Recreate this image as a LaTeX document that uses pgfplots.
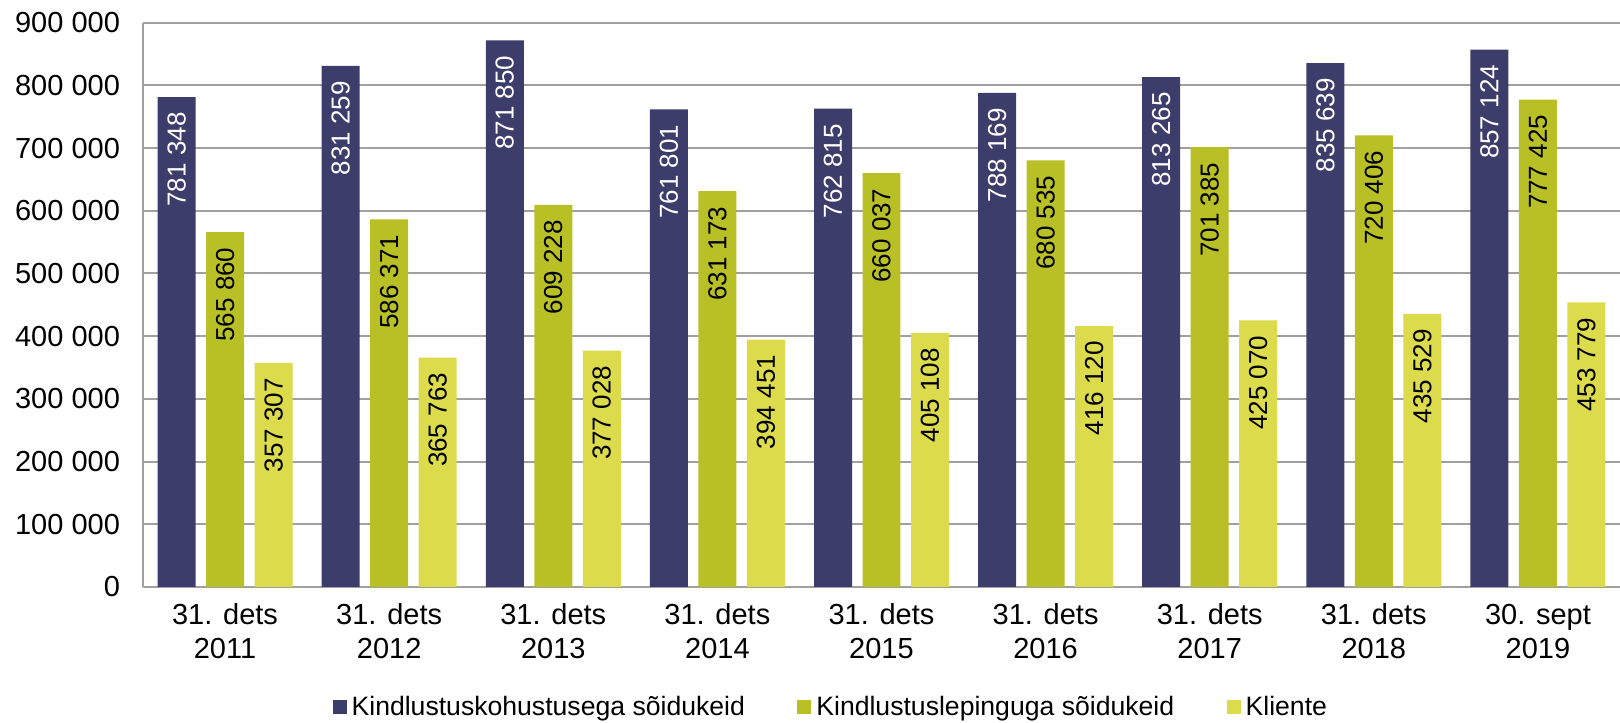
\documentclass[border=0pt]{standalone}
\usepackage{fontspec}
\setmainfont{Liberation Sans}
\usepackage{pgfplots}
\usepackage{pgfplotstable}
\pgfplotsset{compat=1.18}
\definecolor{cdark}{HTML}{3D3D6B}
\definecolor{cgreen}{HTML}{B9C025}
\definecolor{cyellow}{HTML}{DBDB4C}
\definecolor{cgrid}{HTML}{A0A0A0}

\pgfplotstableread[col sep=comma]{
x,y,lab
0,781348,781 348
1,831259,831 259
2,871850,871 850
3,761801,761 801
4,762815,762 815
5,788169,788 169
6,813265,813 265
7,835639,835 639
8,857124,857 124
}\darkdata
\pgfplotstableread[col sep=comma]{
x,y,lab
0,565860,565 860
1,586371,586 371
2,609228,609 228
3,631173,631 173
4,660037,660 037
5,680535,680 535
6,701385,701 385
7,720406,720 406
8,777425,777 425
}\greendata
\pgfplotstableread[col sep=comma]{
x,y,lab
0,357307,357 307
1,365763,365 763
2,377028,377 028
3,394451,394 451
4,405108,405 108
5,416120,416 120
6,425070,425 070
7,435529,435 529
8,453779,453 779
}\yellowdata

\begin{document}
\begin{tikzpicture}
\begin{axis}[
  at={(71.5pt,67.55pt)}, anchor=south west,
  scale only axis, width=738.5pt, height=282.1pt,
  xmin=-0.5, xmax=8.5, ymin=0, ymax=900000,
  ybar, bar width=0.2315,
  axis x line=bottom, axis y line=left,
  axis line style={-, draw=cgrid, line width=1pt},
  ymajorgrids, grid style={draw=cgrid, line width=1pt},
  major tick length=0pt,
  ytick={0,100000,200000,300000,400000,500000,600000,700000,800000,900000},
  yticklabels={0,100 000,200 000,300 000,400 000,500 000,600 000,700 000,800 000,900 000},
  xtick={0,1,2,3,4,5,6,7,8},
  xticklabels={{31. dets\\2011},{31. dets\\2012},{31. dets\\2013},{31. dets\\2014},{31. dets\\2015},{31. dets\\2016},{31. dets\\2017},{31. dets\\2018},{30. sept\\2019}},
  xticklabel style={align=center, font=\fontsize{14.5}{17}\selectfont, yshift=-5pt},
  yticklabel style={font=\fontsize{14.5}{17}\selectfont, xshift=-8pt},
  scaled y ticks=false,
  point meta=explicit symbolic,
  nodes near coords,
  every node near coord/.append style={rotate=90, anchor=east, font=\fontsize{13}{15}\selectfont, inner xsep=7.5pt, inner ysep=0pt},
  legend columns=3,
  legend style={draw=none, fill=none, at={(0.465,-0.2107)}, anchor=center,
    font=\fontsize{13.3}{15}\selectfont, nodes={inner sep=0pt, text depth=0pt},
    /tikz/every odd column/.append style={column sep=2.5pt},
    /tikz/every even column/.append style={column sep=26.2pt}},
  legend image code/.code={\fill[#1] (0pt,-4.35pt) rectangle (7pt,2.65pt);},
  clip=false,
]
\addplot[fill=cdark, draw=none, bar shift=-0.2955, every node near coord/.append style={text=white}] table[x=x,y=y,meta=lab]{\darkdata};
\addplot[fill=cgreen, draw=none, bar shift=0, every node near coord/.append style={text=black}] table[x=x,y=y,meta=lab]{\greendata};
\addplot[fill=cyellow, draw=none, bar shift=0.2955, every node near coord/.append style={text=black}] table[x=x,y=y,meta=lab]{\yellowdata};
\legend{Kindlustuskohustusega sõidukeid, Kindlustuslepinguga sõidukeid, Kliente}
\end{axis}
\pgfresetboundingbox
\useasboundingbox (0,0) rectangle (810pt,361pt);
\end{tikzpicture}
\end{document}
